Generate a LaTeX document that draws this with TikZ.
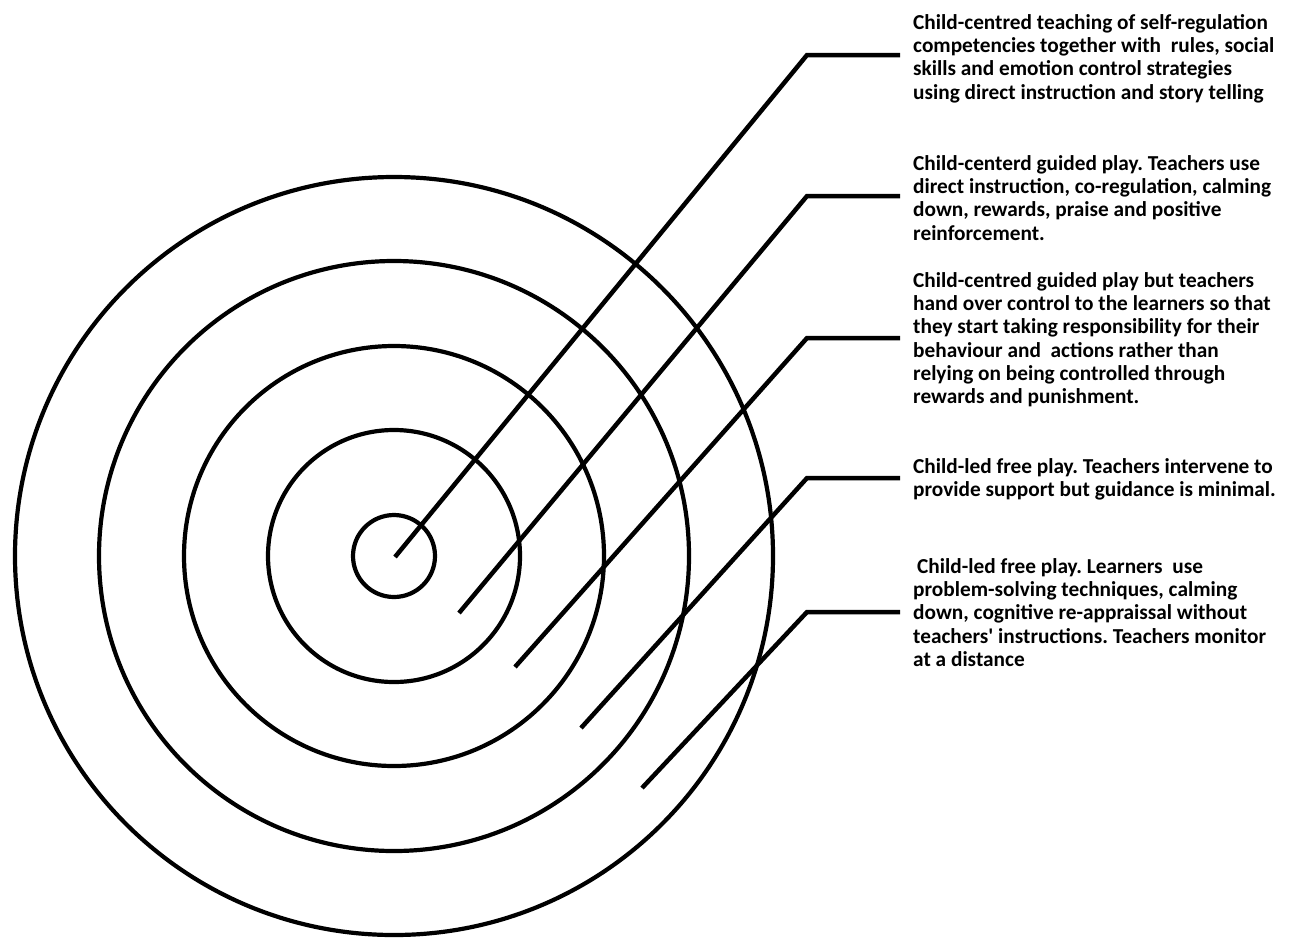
\documentclass[tikz,border=0pt]{standalone}
\usepackage{fontspec}
\setmainfont{Carlito}
\begin{document}
\frenchspacing
\begin{tikzpicture}[x=1pt,y=-1pt,
  ring/.style={circle,draw=black,line width=4.2pt,inner sep=0pt,fill=none},
  leader/.style={draw=black,line width=4.5pt},
  desc/.style={anchor=north west,inner sep=0pt,align=left,
    font=\bfseries\fontsize{21.3}{23.3}\selectfont}]
\fill[white] (0,0) rectangle (1295,938);
\useasboundingbox (0,0) rectangle (1295,938);
\coordinate (c) at (394,556);
\node[ring,minimum size=82pt]  (r1) at (c) {};
\node[ring,minimum size=252pt] (r2) at (c) {};
\node[ring,minimum size=420pt] (r3) at (c) {};
\node[ring,minimum size=590pt] (r4) at (c) {};
\node[ring,minimum size=758pt] (r5) at (c) {};

\node[desc] (t1) at (913,14) {Child-centred teaching of self-regulation\\competencies together with\ \ rules, social\\skills and emotion control strategies\\using direct instruction and story telling};
\node[desc] (t2) at (913,155) {Child-centerd guided play. Teachers use\\direct instruction, co-regulation, calming\\down, rewards, praise and positive\\reinforcement.};
\node[desc] (t3) at (913,272) {Child-centred guided play but teachers\\hand over control to the learners so that\\they start taking responsibility for their\\behaviour and\ \ actions rather than\\relying on being controlled through\\rewards and punishment.};
\node[desc] (t4) at (913,458) {Child-led free play. Teachers intervene to\\provide support but guidance is minimal.};
\node[desc] (t5) at (913,558) {\hspace*{4pt}Child-led free play. Learners\ \ use\\problem-solving techniques, calming\\down, cognitive re-appraissal without\\teachers\textquotesingle\ instructions. Teachers monitor\\at a distance};

\coordinate (s1) at (395,557); \coordinate (b1) at (807,55);  \coordinate (e1) at (900,55);
\coordinate (s2) at (459,613); \coordinate (b2) at (807,196); \coordinate (e2) at (900,196);
\coordinate (s3) at (515,667); \coordinate (b3) at (807,338); \coordinate (e3) at (900,338);
\coordinate (s4) at (581,728); \coordinate (b4) at (807,478); \coordinate (e4) at (900,478);
\coordinate (s5) at (642,788); \coordinate (b5) at (807,612); \coordinate (e5) at (900,612);
\foreach \i in {1,...,5}{\draw[leader] (s\i) -- (b\i) -- (e\i);}
\end{tikzpicture}
\end{document}
